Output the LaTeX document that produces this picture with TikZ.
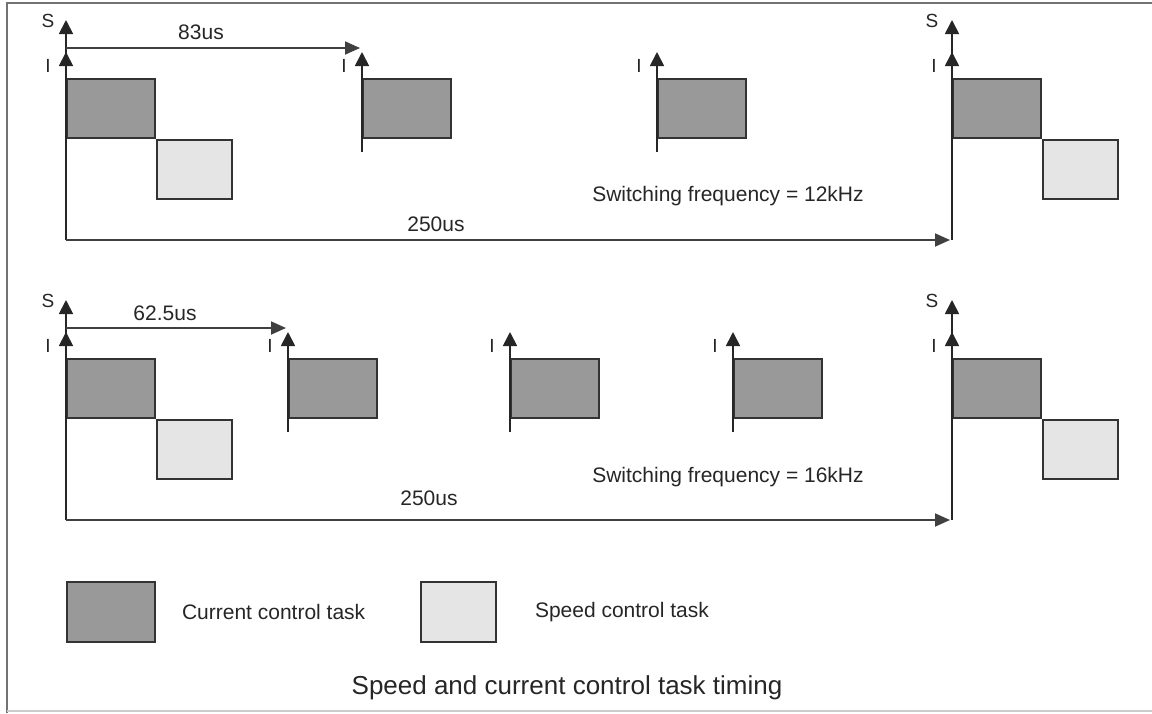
\documentclass[tikz,border=0pt]{standalone}
\usepackage{fontspec}
\setmainfont{Liberation Sans}
\usetikzlibrary{
  arrows.meta,
  positioning
}
\tikzset{
  ax/.style={-{Triangle[length=14pt, width=14pt]}, line width=1.8pt, draw=black!85},
  span/.style={-{Triangle[length=15pt, width=13pt]}, line width=1.8pt, draw=black!75},
  curtask/.style={draw=black!80, line width=1.8pt, fill=black!40, anchor=north west,
    minimum width=88pt, minimum height=59pt, inner sep=0pt},
  spdtask/.style={draw=black!80, line width=1.8pt, fill=black!10, anchor=north west,
    minimum width=75pt, minimum height=59pt, inner sep=0pt},
  note/.style={font=\fontsize{21}{25}\selectfont, text=black!85, inner sep=0pt},
  axNote/.style={font=\fontsize{19}{22}\selectfont, text=black!85, inner sep=0pt},
  title/.style={font=\fontsize{26}{31}\selectfont, text=black!85, inner sep=0pt},
}

\begin{document}
\begin{tikzpicture}[x=1pt, y=-1pt]
\useasboundingbox (0,0) rectangle (1152,713);

% --- frame ---
\draw[line width=2.5pt, black!55] (7,713) -- (7,3) -- (1152,3);
\draw[line width=1.5pt, black!20] (7,711) -- (1152,711);

% --- 12kHz row ---
\begin{scope}[name prefix=top-]
  \coordinate (base) at (66,240);
  \coordinate (s0) at (66,20);
  \coordinate (end) at (952,240);
  \coordinate (sN) at (952,20);
  \node[curtask] (c0) at (66,78) {};
  \node[spdtask] (v0) at (c0.south east) {};
  \node[curtask] (cN) at (952,78) {};
  \node[spdtask] (vN) at (cN.south east) {};
  \foreach \x [count=\k] in {66,362,657,952} {
    \coordinate (ib\k) at (\x,152);
    \coordinate (i\k) at (\x,52);
    \node[axNote] (il\k) at (\x-18,66) {I};
  }
  \foreach \x [count=\k from 2] in {362,657} {
    \node[curtask] (c\k) at (\x,78) {};
  }
  \draw[ax] (base) -- (s0);
  \draw[ax] (end) -- (sN);
  \foreach \k in {1,...,4} {
    \draw[ax] (ib\k) -- (i\k);
  }
  \draw[span] (base) -- ([xshift=-2pt]end);
  \draw[span] (66,48) coordinate (p0) -- ([xshift=-2pt, yshift=4pt]i2);
  \node[axNote] (sl0) at (48,21) {S};
  \node[axNote] (slN) at (932,21) {S};
  \node[note] (per) at (201,32) {83us};
  \node[note] (tot) at (436,224) {250us};
  \node[note] (freq) at (728,196) {Switching frequency = 12kHz};
\end{scope}

% --- 16kHz row ---
\begin{scope}[shift={(0,280)}, name prefix=bot-]
  \coordinate (base) at (66,240);
  \coordinate (s0) at (66,20);
  \coordinate (end) at (952,240);
  \coordinate (sN) at (952,20);
  \node[curtask] (c0) at (66,78) {};
  \node[spdtask] (v0) at (c0.south east) {};
  \node[curtask] (cN) at (952,78) {};
  \node[spdtask] (vN) at (cN.south east) {};
  \foreach \x [count=\k] in {66,288,510,733,952} {
    \coordinate (ib\k) at (\x,152);
    \coordinate (i\k) at (\x,52);
    \node[axNote] (il\k) at (\x-18,66) {I};
  }
  \foreach \x [count=\k from 2] in {288,510,733} {
    \node[curtask] (c\k) at (\x,78) {};
  }
  \draw[ax] (base) -- (s0);
  \draw[ax] (end) -- (sN);
  \foreach \k in {1,...,5} {
    \draw[ax] (ib\k) -- (i\k);
  }
  \draw[span] (base) -- ([xshift=-2pt]end);
  \draw[span] (66,48) coordinate (p0) -- ([xshift=-2pt, yshift=4pt]i2);
  \node[axNote] (sl0) at (48,21) {S};
  \node[axNote] (slN) at (932,21) {S};
  \node[note] (per) at (165,33) {62.5us};
  \node[note] (tot) at (429,218) {250us};
  \node[note] (freq) at (728,197) {Switching frequency = 16kHz};
\end{scope}

% --- legend ---
\node[curtask, minimum height=60pt] (keycur) at (66,581) {};
\node[note, right=26pt of keycur] (keycurtxt) {Current control task};
\node[spdtask, minimum height=60pt] (keyspd) at (420,581) {};
\node[note, right=38pt of keyspd] (keyspdtxt) {Speed control task};
\node[title] (cap) at (567,688) {Speed and current control task timing};

\end{tikzpicture}
\end{document}
